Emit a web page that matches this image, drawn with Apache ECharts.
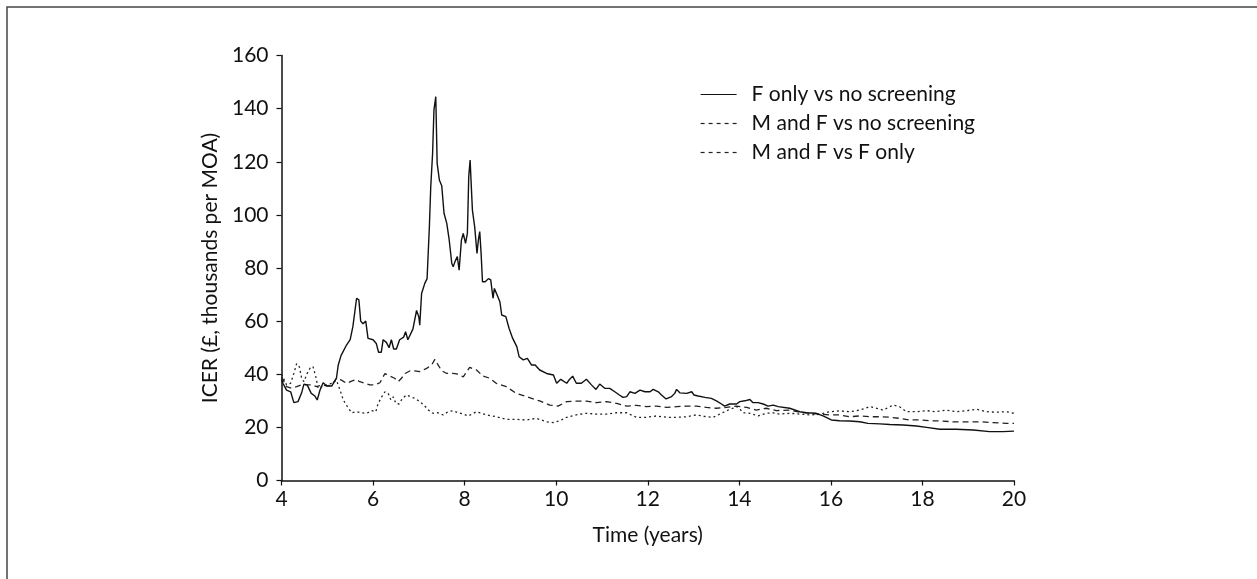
<!DOCTYPE html>
<html>
<head>
<meta charset="utf-8">
<script src="https://cdn.jsdelivr.net/npm/echarts@6/dist/echarts.min.js"></script>
<style>
html,body{margin:0;padding:0;background:#fff;}
#chart{width:1257px;height:579px;}
</style>
</head>
<body>
<div id="chart"></div>
<script>
// ---- data ----
const seriesNames = ['F only vs no screening', 'M and F vs no screening', 'M and F vs F only'];
const xTicks = [4, 6, 8, 10, 12, 14, 16, 18, 20];
const yTicks = [0, 20, 40, 60, 80, 100, 120, 140, 160];

const fOnlyYears = [4.00,4.03,4.11,4.20,4.27,4.36,4.44,4.49,4.56,4.65,4.73,4.78,4.84,4.91,4.99,5.10,5.20,5.24,5.30,5.42,5.50,5.56,5.64,5.69,5.73,5.78,5.84,5.89,6.00,6.07,6.12,6.18,6.22,6.29,6.35,6.40,6.45,6.51,6.58,6.67,6.71,6.76,6.87,6.95,7.00,7.02,7.06,7.13,7.18,7.23,7.26,7.30,7.33,7.37,7.40,7.45,7.50,7.55,7.61,7.66,7.72,7.75,7.79,7.84,7.88,7.93,7.97,8.02,8.06,8.09,8.12,8.14,8.17,8.22,8.27,8.30,8.33,8.36,8.39,8.45,8.52,8.57,8.62,8.65,8.71,8.77,8.81,8.90,8.97,9.05,9.14,9.19,9.28,9.37,9.46,9.54,9.64,9.79,9.94,10.01,10.10,10.23,10.28,10.36,10.44,10.55,10.66,10.77,10.87,10.95,11.06,11.17,11.28,11.38,11.46,11.54,11.61,11.72,11.83,11.94,12.05,12.12,12.23,12.30,12.40,12.52,12.59,12.63,12.70,12.85,12.96,13.01,13.10,13.25,13.39,13.50,13.61,13.68,13.79,13.94,14.01,14.12,14.23,14.30,14.41,14.52,14.63,14.74,14.85,15.10,15.32,15.47,15.68,15.83,16.01,16.19,16.41,16.63,16.81,17.07,17.29,17.58,17.87,18.09,18.38,18.74,19.11,19.47,19.76,20.00];
const fOnlyValues = [38,36.6,34,33.4,29.3,29.7,33,36.3,36,32.8,31.8,30.3,34,36.8,35.6,35.6,38.5,43.5,47,51,53,58,68.6,68,60,59,60,53.5,53,51.6,48.3,48.3,53,52,50,53,49.5,49.5,53,54,56,53,57,64,61.6,58.5,70.4,74.2,76,95.5,110.6,123,139.5,144.5,119.4,113,111,100.6,96.8,91,81.7,80.5,82.4,84.3,79.2,90.5,93,89.3,93,114.4,120.6,113,101.8,95.5,85.5,90.5,93.7,85.5,74.8,74.8,76,75.5,68.6,72.3,69.8,67.3,62.3,61.7,57.3,53.5,50.4,46.6,45.4,46,43.5,43.5,41.6,40.3,39.7,36.6,38.1,36.6,37.8,39.3,36.6,36.6,38.1,36,34.3,36.3,34.7,34.7,33.4,32.2,31.3,31.6,33.4,32.8,34,33.4,33.4,34.3,33.4,32.2,30.7,31.6,32.8,34.3,33,32.8,33.4,32.2,31.8,31.3,30.9,30,28.8,28,28.8,28.8,29.7,30,30.5,29.3,29.3,28.8,28,28.4,27.8,27.2,25.9,25.5,25.3,24.3,22.8,22.5,22.4,22.1,21.5,21.3,21.1,20.9,20.5,20,19.3,19.3,19,18.4,18.4,18.6];

const mfNoScreenYears = [4.00,4.03,4.11,4.22,4.33,4.44,4.55,4.66,4.77,4.88,4.99,5.10,5.20,5.31,5.42,5.53,5.63,5.71,5.82,5.93,6.04,6.15,6.26,6.37,6.47,6.55,6.62,6.70,6.81,6.91,7.02,7.17,7.28,7.35,7.42,7.50,7.61,7.75,7.86,7.97,8.11,8.26,8.40,8.55,8.69,8.91,9.13,9.35,9.57,9.64,9.86,10.04,10.23,10.44,10.66,10.88,11.10,11.32,11.54,11.75,11.97,12.19,12.41,12.63,12.85,13.06,13.28,13.50,13.72,13.94,14.16,14.37,14.59,14.81,15.10,15.32,15.54,15.76,15.98,16.19,16.41,16.63,16.85,17.07,17.29,17.50,17.72,17.94,18.16,18.38,18.67,18.96,19.25,19.54,19.83,20.00];
const mfNoScreenValues = [39,38.5,35.3,34.7,35.3,36,36,36,35.3,36,35.6,36,38.5,37.8,36.6,37.4,38,37.2,36.6,36,36,36.8,40.3,39.3,38.5,37.2,38.5,40.3,41.3,41.3,41,42.2,43.5,45.6,43.5,41.3,40.3,40.3,40,39,42.6,41.6,39.3,38.5,36.6,35.3,32.8,31.6,30.3,30,28.4,28,29.7,29.9,29.9,29.3,29.7,29,28,28.3,27.8,28,27.5,27.8,28,28,27.5,27.2,27.5,28,27.5,26.5,27.2,26.3,26.5,25.7,25.3,25,24.7,24.7,24,24.3,24,24,23.8,23.4,22.8,22.8,22.5,22.4,22.1,22.1,22.1,21.8,21.5,21.5];

const mfFOnlyYears = [4.00,4.03,4.11,4.20,4.27,4.33,4.39,4.44,4.49,4.56,4.64,4.69,4.75,4.80,4.88,4.99,5.10,5.20,5.28,5.35,5.44,5.53,5.64,5.75,5.86,5.97,6.06,6.11,6.19,6.26,6.33,6.39,6.44,6.50,6.57,6.64,6.73,6.82,6.92,7.02,7.11,7.21,7.31,7.42,7.53,7.64,7.75,7.86,7.97,8.08,8.26,8.48,8.69,8.91,9.13,9.35,9.57,9.79,9.93,10.08,10.23,10.44,10.66,10.88,11.10,11.32,11.54,11.75,11.97,12.19,12.41,12.63,12.85,13.06,13.28,13.43,13.61,13.79,13.97,14.08,14.23,14.41,14.59,14.74,14.88,15.10,15.32,15.54,15.76,15.98,16.19,16.41,16.63,16.85,17.00,17.14,17.36,17.50,17.65,17.87,18.09,18.30,18.52,18.74,18.96,19.18,19.40,19.61,19.83,20.00];
const mfFOnlyValues = [40,39,36,36.6,40.3,44,42.8,38.5,37.2,40.3,42.8,42.8,39,34.7,35.3,36,36.6,37.8,34,30.3,27.8,25.5,25.9,25.5,25.3,26.3,25.9,29,31.5,33.4,32.8,30.3,31.5,29,28.8,30.9,32.2,31.5,30.9,29.7,28.4,26.5,25.3,25.5,24.7,25.9,26.3,25.5,25,24.3,25.9,24.7,24,23,23,22.8,23.4,22.1,21.8,22.5,23.8,24.7,25.3,25,25,25.5,25.5,23.8,23.8,24.3,23.8,23.8,24,24.7,24,23.8,25.3,26.8,27.8,25.5,25.3,24.3,25.3,25.5,25,25.3,25,24.7,24.9,25.9,26.2,25.9,26.5,27.8,27.2,26.5,28.4,27.8,25.9,25.9,26.3,25.9,26.5,25.9,26.3,26.8,25.9,25.7,25.9,25.3];

// ---- chart ----
function zip(xs, ys) { return xs.map((x, i) => [x, ys[i]]); }
const FONT = 'Lato';
const INK = '#111';
const FS = 21;

const chart = echarts.init(document.getElementById('chart'), null, {renderer: 'canvas'});
chart.setOption({
  backgroundColor: '#fff',
  animation: false,
  graphic: [{
    type: 'rect',
    shape: {x: 7, y: 7, width: 1400, height: 800},
    style: {fill: 'none', stroke: '#444', lineWidth: 1.5},
    silent: true, z: -1
  }],
  grid: {left: 281.5, right: 243, top: 55.5, bottom: 98.5},
  legend: {
    orient: 'vertical',
    left: 695,
    top: 79,
    itemWidth: 36,
    itemHeight: 14,
    itemGap: 8,
    itemStyle: {opacity: 0},
    textStyle: {fontFamily: FONT, fontSize: FS, color: INK, padding: [0, 0, 0, 10]},
    data: [
      {name: seriesNames[0], lineStyle: {type: 'solid', width: 1.2}},
      {name: seriesNames[1], lineStyle: {type: [4, 4], width: 1.2}},
      {name: seriesNames[2], lineStyle: {type: [4, 4], width: 1.2}}
    ]
  },
  xAxis: {
    type: 'value',
    min: 4, max: 20, interval: 2,
    name: 'Time (years)',
    nameLocation: 'middle',
    nameGap: 44,
    nameTextStyle: {fontFamily: FONT, fontSize: FS, color: INK},
    axisLine: {lineStyle: {color: INK, width: 1.5}},
    axisTick: {show: true, length: 5, lineStyle: {color: INK, width: 1.2}},
    axisLabel: {fontFamily: FONT, fontSize: FS, color: INK, margin: 8,
      formatter: v => xTicks.includes(v) ? String(v) : ''},
    splitLine: {show: false}
  },
  yAxis: {
    type: 'value',
    min: 0, max: 160, interval: 20,
    name: 'ICER (£, thousands per MOA)',
    nameLocation: 'middle',
    nameGap: 54,
    nameTextStyle: {fontFamily: FONT, fontSize: FS, color: INK},
    axisLine: {show: true, lineStyle: {color: INK, width: 1.5}},
    axisTick: {show: true, length: 5, lineStyle: {color: INK, width: 1.2}},
    axisLabel: {fontFamily: FONT, fontSize: FS, color: INK, margin: 13,
      formatter: v => yTicks.includes(v) ? String(v) : ''},
    splitLine: {show: false}
  },
  series: [
    {
      name: seriesNames[0], type: 'line', data: zip(fOnlyYears, fOnlyValues),
      showSymbol: false, symbol: 'none',
      lineStyle: {color: INK, width: 1.4, type: 'solid'}, itemStyle: {color: INK}, z: 3
    },
    {
      name: seriesNames[1], type: 'line', data: zip(mfNoScreenYears, mfNoScreenValues),
      showSymbol: false, symbol: 'none',
      lineStyle: {color: '#222', width: 1.3, type: [6, 4]}, itemStyle: {color: '#222'}, z: 2
    },
    {
      name: seriesNames[2], type: 'line', data: zip(mfFOnlyYears, mfFOnlyValues),
      showSymbol: false, symbol: 'none',
      lineStyle: {color: '#222', width: 1.3, type: [2, 3]}, itemStyle: {color: '#222'}, z: 2
    }
  ]
});
</script>
</body>
</html>
